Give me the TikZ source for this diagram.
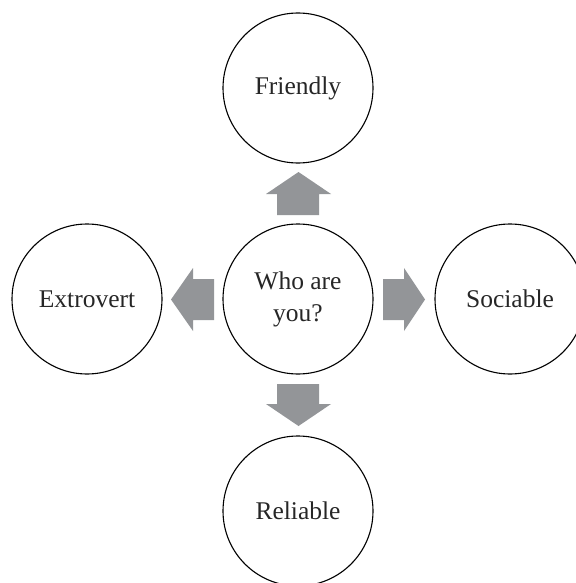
\documentclass[tikz,border=0pt]{standalone}
\usepackage{fontspec}
\setmainfont{Liberation Serif}
\begin{document}
\begin{tikzpicture}[x=1pt,y=-1pt,
  bubble/.style={circle,draw=black,line width=1.1pt,minimum size=150pt,inner sep=0pt,align=center,
    font=\fontsize{25.5}{32}\selectfont,text=black!85},
  blockarrow/.style={fill=arrowgray,draw=none}]
\definecolor{arrowgray}{HTML}{939598}
\useasboundingbox (0,0) rectangle (575,583);
\node[bubble] (center) at (298,299) {Who are\\you?};
\node[bubble] (friendly) at (298,88) {Friendly};
\node[bubble] (extrovert) at (87,299) {Extrovert};
\node[bubble] (sociable) at (510,299) {Sociable};
\node[bubble] (reliable) at (298,511) {Reliable};
% up arrow
\fill[blockarrow] (277,215) -- (277,194) -- (266,194) -- (298.5,172) -- (331,194) -- (319,194) -- (319,215) -- cycle;
% down arrow
\fill[blockarrow] (277,384) -- (277,404) -- (266,404) -- (298.5,426) -- (331,404) -- (319,404) -- (319,384) -- cycle;
% left arrow
\fill[blockarrow] (214,279) -- (193,279) -- (193,268) -- (171,299.5) -- (193,331) -- (193,320) -- (214,320) -- cycle;
% right arrow
\fill[blockarrow] (383,279) -- (404,279) -- (404,268) -- (425,299.5) -- (404,331) -- (404,320) -- (383,320) -- cycle;
\end{tikzpicture}
\end{document}
